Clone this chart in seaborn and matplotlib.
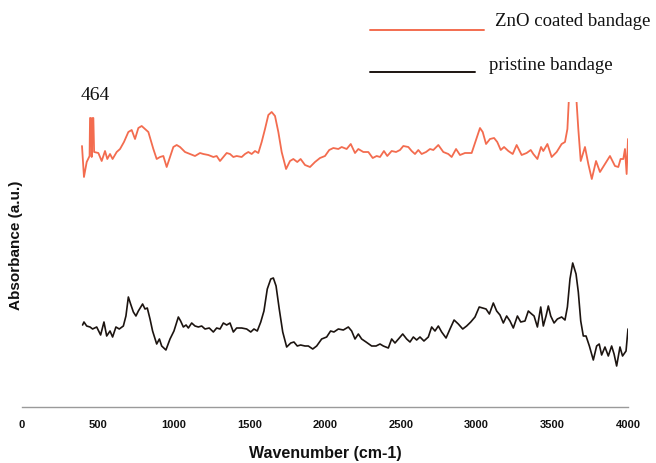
import matplotlib
matplotlib.use("Agg")
import matplotlib.pyplot as plt
import seaborn as sns
import pandas as pd
from matplotlib.lines import Line2D

# ---- data ----
zno_wavenumber = [396, 409, 427, 446, 449, 455, 460, 466, 471, 476, 504, 526, 548, 563, 581, 598,
                  625, 647, 673, 702, 724, 746, 768, 790, 812, 834, 867, 889, 911, 933, 955, 977,
                  999, 1021, 1043, 1076, 1109, 1142, 1175, 1197, 1230, 1263, 1285, 1307, 1329,
                  1351, 1373, 1395, 1417, 1450, 1472, 1494, 1516, 1538, 1560, 1582, 1604, 1626,
                  1648, 1670, 1692, 1714, 1743, 1769, 1791, 1817, 1839, 1868, 1901, 1934, 1967,
                  2000, 2028, 2055, 2088, 2110, 2143, 2170, 2198, 2220, 2253, 2286, 2315, 2341,
                  2363, 2389, 2411, 2440, 2469, 2495, 2517, 2550, 2572, 2594, 2616, 2638, 2667,
                  2693, 2715, 2748, 2781, 2814, 2836, 2865, 2891, 2924, 2968, 3001, 3023, 3041,
                  3063, 3089, 3116, 3137, 3160, 3182, 3210, 3239, 3265, 3298, 3331, 3358, 3375,
                  3402, 3426, 3441, 3468, 3496, 3529, 3562, 3584, 3600, 3617, 3635, 3650, 3672,
                  3688, 3716, 3738, 3761, 3789, 3815, 3848, 3881, 3914, 3936, 3951, 3969, 3980,
                  3991, 4000]
zno_absorbance = [2.61, 2.30, 2.45, 2.51, 2.89, 2.89, 2.50, 2.89, 2.89, 2.55, 2.54, 2.46, 2.56, 2.48,
                  2.53, 2.48, 2.55, 2.58, 2.65, 2.75, 2.77, 2.68, 2.79, 2.81, 2.78, 2.75, 2.58, 2.48,
                  2.50, 2.51, 2.40, 2.50, 2.60, 2.62, 2.60, 2.55, 2.53, 2.51, 2.54, 2.53, 2.52, 2.50,
                  2.51, 2.46, 2.50, 2.54, 2.53, 2.50, 2.51, 2.50, 2.53, 2.55, 2.53, 2.56, 2.54, 2.65,
                  2.78, 2.92, 2.95, 2.91, 2.75, 2.55, 2.38, 2.46, 2.48, 2.45, 2.48, 2.42, 2.40, 2.45,
                  2.49, 2.51, 2.57, 2.59, 2.58, 2.60, 2.58, 2.63, 2.54, 2.58, 2.55, 2.55, 2.49, 2.51,
                  2.50, 2.56, 2.51, 2.56, 2.55, 2.57, 2.61, 2.60, 2.56, 2.53, 2.57, 2.53, 2.55, 2.58,
                  2.57, 2.62, 2.55, 2.53, 2.50, 2.58, 2.52, 2.54, 2.54, 2.69, 2.79, 2.75, 2.63, 2.68,
                  2.69, 2.65, 2.57, 2.60, 2.56, 2.53, 2.62, 2.52, 2.54, 2.57, 2.53, 2.48, 2.60, 2.56,
                  2.63, 2.50, 2.55, 2.63, 2.65, 2.78, 3.30, 3.45, 3.30, 2.78, 2.46, 2.60, 2.43, 2.28,
                  2.46, 2.35, 2.43, 2.51, 2.41, 2.40, 2.48, 2.48, 2.58, 2.33, 2.68]

pristine_wavenumber = [400, 409, 427, 449, 466, 493, 519, 541, 559, 581, 598, 620, 642, 669, 686, 702,
                       717, 735, 752, 768, 796, 812, 827, 845, 862, 889, 907, 922, 950, 977, 1003,
                       1032, 1047, 1065, 1083, 1098, 1120, 1142, 1164, 1186, 1208, 1236, 1263, 1285,
                       1307, 1329, 1351, 1373, 1395, 1417, 1450, 1483, 1510, 1531, 1553, 1576, 1597,
                       1619, 1642, 1659, 1677, 1698, 1721, 1747, 1774, 1795, 1817, 1839, 1868, 1890,
                       1919, 1945, 1978, 2011, 2037, 2059, 2088, 2121, 2154, 2176, 2198, 2220, 2242,
                       2271, 2308, 2337, 2363, 2385, 2418, 2440, 2462, 2490, 2513, 2539, 2561, 2583,
                       2605, 2627, 2653, 2682, 2704, 2726, 2748, 2770, 2799, 2825, 2852, 2880, 2909,
                       2935, 2962, 2990, 3018, 3041, 3063, 3085, 3111, 3133, 3155, 3177, 3199, 3221,
                       3243, 3270, 3292, 3320, 3342, 3364, 3380, 3402, 3424, 3441, 3459, 3474, 3490,
                       3512, 3534, 3562, 3584, 3600, 3617, 3635, 3657, 3672, 3688, 3705, 3723, 3745,
                       3771, 3793, 3810, 3826, 3848, 3870, 3892, 3908, 3925, 3947, 3964, 3987, 4000]
pristine_absorbance = [0.82, 0.85, 0.81, 0.80, 0.78, 0.80, 0.72, 0.85, 0.71, 0.76, 0.70, 0.80, 0.78,
                       0.81, 0.91, 1.10, 1.03, 0.95, 0.91, 0.96, 1.03, 0.98, 0.99, 0.88, 0.76, 0.63,
                       0.68, 0.61, 0.57, 0.68, 0.76, 0.90, 0.86, 0.80, 0.82, 0.79, 0.84, 0.81, 0.80,
                       0.81, 0.78, 0.79, 0.75, 0.79, 0.78, 0.84, 0.82, 0.84, 0.75, 0.79, 0.79, 0.78,
                       0.75, 0.78, 0.76, 0.85, 0.96, 1.18, 1.28, 1.29, 1.21, 0.98, 0.75, 0.60, 0.64,
                       0.65, 0.61, 0.62, 0.61, 0.61, 0.58, 0.61, 0.68, 0.70, 0.76, 0.75, 0.78, 0.77,
                       0.80, 0.76, 0.68, 0.73, 0.68, 0.65, 0.61, 0.61, 0.63, 0.61, 0.59, 0.68, 0.64,
                       0.69, 0.73, 0.68, 0.65, 0.70, 0.67, 0.70, 0.66, 0.70, 0.80, 0.76, 0.81, 0.75,
                       0.69, 0.78, 0.87, 0.83, 0.78, 0.81, 0.85, 0.90, 1.00, 0.99, 0.98, 0.93, 1.04,
                       0.96, 0.92, 0.84, 0.91, 0.86, 0.79, 0.91, 0.85, 0.86, 0.96, 0.93, 0.91, 0.80,
                       1.00, 0.81, 0.91, 1.01, 0.91, 0.84, 0.88, 0.90, 0.87, 1.00, 1.28, 1.44, 1.33,
                       1.15, 0.86, 0.71, 0.71, 0.61, 0.47, 0.61, 0.63, 0.52, 0.60, 0.51, 0.61, 0.53,
                       0.41, 0.60, 0.51, 0.56, 0.78]

series_labels = ["ZnO coated bandage", "pristine bandage"]
x_ticks = [0, 500, 1000, 1500, 2000, 2500, 3000, 3500, 4000]
peak_label = "464"

ORANGE = "#f36c4f"
DARK = "#1c1410"

sns.set_style("white")
plt.rcParams["font.family"] = ["Liberation Sans", "DejaVu Sans"]

fig = plt.figure(figsize=(6.56, 4.64), dpi=100)
ax = fig.add_axes([22 / 656, 56 / 464, 606 / 656, 305 / 464])

df_zno = pd.DataFrame({"wavenumber": zno_wavenumber, "absorbance": zno_absorbance})
df_pri = pd.DataFrame({"wavenumber": pristine_wavenumber, "absorbance": pristine_absorbance})

sns.lineplot(data=df_zno, x="wavenumber", y="absorbance", color=ORANGE, lw=1.3, ax=ax,
             estimator=None, sort=False)
sns.lineplot(data=df_pri, x="wavenumber", y="absorbance", color=DARK, lw=1.2, ax=ax,
             estimator=None, sort=False)

ax.set_xlim(0, 4000)
ax.set_ylim(0, 3.05)
ax.set_xticks(x_ticks)
ax.set_xticklabels([str(t) for t in x_ticks])
ax.set_yticks([])
for s in ["left", "right", "top"]:
    ax.spines[s].set_visible(False)
ax.spines["bottom"].set_color("#9a9a9a")
ax.spines["bottom"].set_linewidth(1.0)
ax.tick_params(axis="x", direction="in", length=3, width=1, color="#9a9a9a",
               labelsize=8, pad=9, labelcolor="#111111")
for lbl in ax.get_xticklabels():
    lbl.set_fontweight("bold")

ax.set_xlabel("Wavenumber (cm-1)", fontsize=11.5, fontweight="bold", labelpad=11, color="#111111")
ax.set_ylabel("Absorbance (a.u.)", fontsize=11, fontweight="bold", color="#111111")
ax.yaxis.set_label_coords(0.001, 0.535)

# legend drawn as in the reference (line sample, then text)
serif = ["Liberation Serif", "DejaVu Serif"]
fig.add_artist(Line2D([370 / 656, 484 / 656], [1 - 31 / 464, 1 - 31 / 464],
                      color=ORANGE, lw=1.4, transform=fig.transFigure))
fig.text(495 / 656, 1 - 22 / 464, series_labels[0], family=serif, fontsize=13.5,
         va="center", ha="left", color="#111111")
fig.add_artist(Line2D([370 / 656, 475 / 656], [1 - 73 / 464, 1 - 73 / 464],
                      color=DARK, lw=1.4, transform=fig.transFigure))
fig.text(489 / 656, 1 - 66 / 464, series_labels[1], family=serif, fontsize=13.5,
         va="center", ha="left", color="#111111")

fig.text(95 / 656, 1 - 96 / 464, peak_label, family=serif, fontsize=14,
         va="center", ha="center", color="#111111")

fig.savefig("out.png", dpi=100)
